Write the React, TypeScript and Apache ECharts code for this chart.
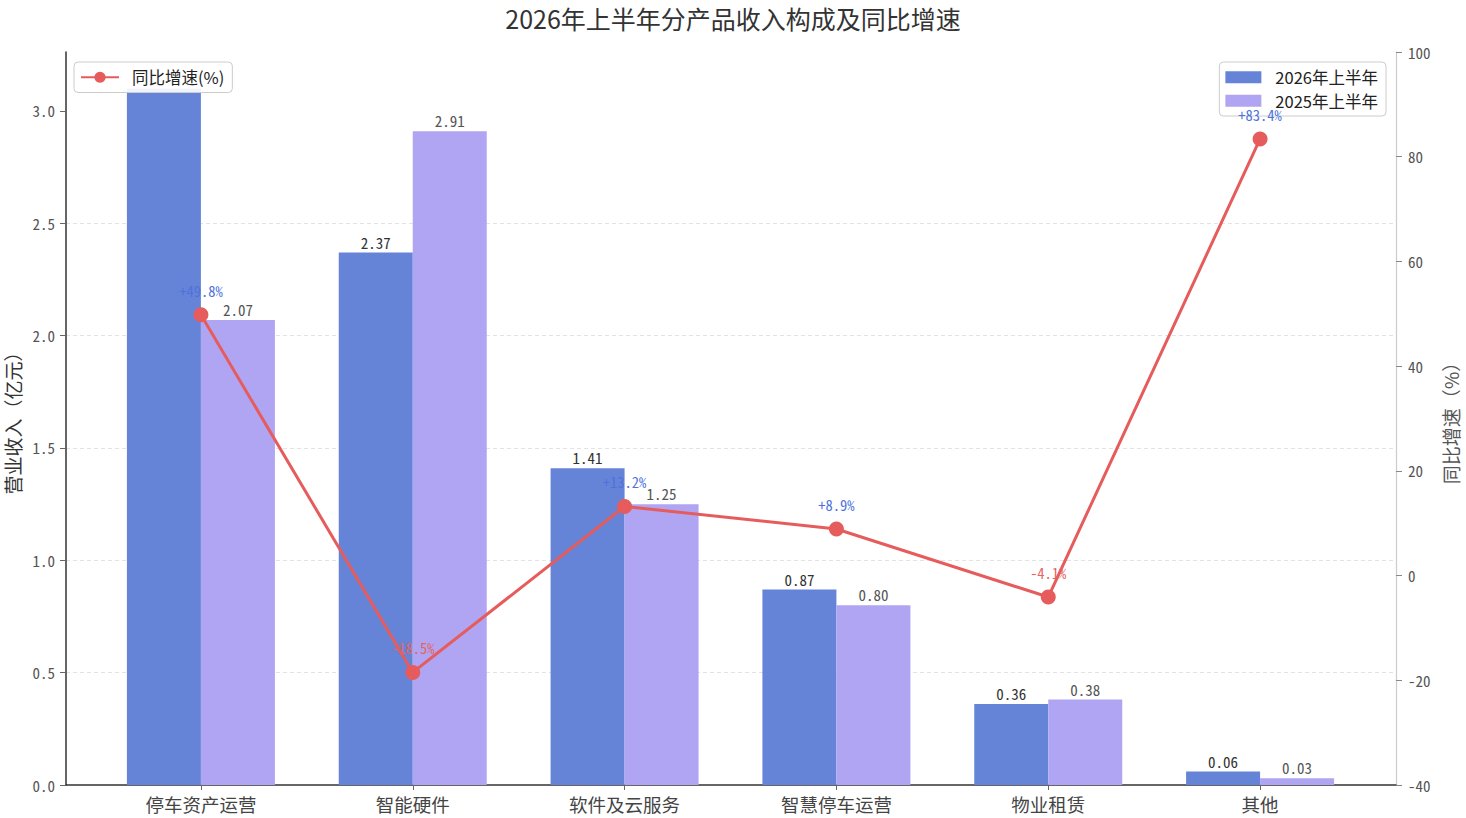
import React, { useEffect, useRef } from "react";
import * as echarts from "echarts";

const categories = ["停车资产运营", "智能硬件", "软件及云服务", "智慧停车运营", "物业租赁", "其他"];
const revenue2026 = [3.1, 2.37, 1.41, 0.87, 0.36, 0.06];
const revenue2025 = [2.07, 2.91, 1.25, 0.8, 0.38, 0.03];
const growth = [49.8, -18.5, 13.2, 8.9, -4.1, 83.4];
const leftTicks = [0, 0.5, 1, 1.5, 2, 2.5, 3];
const seriesNames = ["2026年上半年", "2025年上半年", "同比增速(%)"];

const FONT = "'Noto Sans CJK SC', 'Noto Sans', sans-serif";
const MONO = "'Noto Sans Mono CJK SC', 'Noto Sans CJK SC', 'DejaVu Sans Mono', monospace";
const C2026 = "#6684d7";
const C2025 = "#b0a5f2";
const CLINE = "#e65c5c";
const LEFT_MAX = 3.2625;
const topTick = leftTicks[leftTicks.length - 1];

export default function App() {
  const ref = useRef<HTMLDivElement>(null);
  useEffect(() => {
    if (!ref.current) return;
    const chart = echarts.init(ref.current, null, { renderer: "svg" });
    const barLabel = (color: string) => ({
      show: true,
      position: "top",
      distance: 3,
      fontFamily: MONO,
      fontSize: 15,
      color,
      formatter: (p: any) => Number(p.value).toFixed(2),
    });
    const option: any = {
      animation: false,
      backgroundColor: "#ffffff",
      textStyle: { fontFamily: FONT },
      title: {
        text: "2026年上半年分产品收入构成及同比增速",
        left: "center",
        top: 0,
        textStyle: { fontFamily: FONT, fontSize: 25, fontWeight: "normal", color: "#333" },
      },
      legend: [
        {
          data: [seriesNames[2]],
          left: 74,
          top: 62,
          padding: [7, 8, 7, 6],
          itemWidth: 38,
          itemHeight: 14,
          backgroundColor: "rgba(255,255,255,0.9)",
          borderColor: "#cccccc",
          borderWidth: 1,
          borderRadius: 4,
          z: 20,
          textStyle: { fontFamily: FONT, fontSize: 16.5, color: "#222", padding: [0, 0, 0, 8] },
        },
        {
          data: [seriesNames[0], seriesNames[1]],
          orient: "vertical",
          right: 80,
          top: 62,
          padding: [7, 8, 7, 6],
          itemGap: 7,
          itemWidth: 36,
          itemHeight: 12,
          icon: "rect",
          backgroundColor: "rgba(255,255,255,0.9)",
          borderColor: "#cccccc",
          borderWidth: 1,
          borderRadius: 4,
          z: 20,
          textStyle: { fontFamily: FONT, fontSize: 16.5, color: "#222", padding: [0, 0, 0, 9] },
        },
      ],
      grid: [
        { left: 95, right: 100, top: 52, bottom: 33, outerBoundsMode: "none", containLabel: false },
        { left: 66, right: 70, top: 52, bottom: 33, outerBoundsMode: "none", containLabel: false },
      ],
      xAxis: [
        {
          type: "category",
          gridIndex: 0,
          data: categories,
          axisLine: { show: false },
          axisTick: { show: true, alignWithLabel: true, length: 5, lineStyle: { color: "#666" } },
          axisLabel: { fontFamily: FONT, fontSize: 18.5, color: "#444", margin: 10 },
          splitLine: { show: false },
        },
        {
          type: "value",
          gridIndex: 1,
          min: 0,
          max: 1,
          axisLine: { show: true, lineStyle: { color: "#333", width: 1.5 } },
          axisTick: { show: false },
          axisLabel: { show: false },
          splitLine: { show: false },
        },
      ],
      yAxis: [
        {
          type: "value",
          gridIndex: 0,
          position: "left",
          offset: 29,
          min: 0,
          max: LEFT_MAX,
          interval: 0.5,
          name: "营业收入（亿元）",
          nameLocation: "middle",
          nameRotate: 90,
          nameGap: 38,
          nameTextStyle: { fontFamily: FONT, fontSize: 19, color: "#333" },
          axisLine: { show: true, lineStyle: { color: "#333", width: 1.5 } },
          axisTick: { show: true, length: 6, lineStyle: { color: "#666" }, customValues: leftTicks },
          axisLabel: {
            fontFamily: MONO,
            fontSize: 15,
            color: "#555",
            margin: 11,
            customValues: leftTicks,
            formatter: (v: number) => v.toFixed(1),
          },
          splitLine: { show: false },
        },
        {
          type: "value",
          gridIndex: 0,
          position: "right",
          offset: 30,
          min: -40,
          max: 100,
          interval: 20,
          name: "同比增速（%）",
          nameLocation: "middle",
          nameRotate: 90,
          nameGap: 45,
          nameTextStyle: { fontFamily: FONT, fontSize: 19, color: "#555" },
          axisLine: { show: true, lineStyle: { color: "#cccccc", width: 1.2 } },
          axisTick: { show: true, length: 6, lineStyle: { color: "#888" } },
          axisLabel: { fontFamily: MONO, fontSize: 15, color: "#555", margin: 12 },
          splitLine: { show: false },
        },
        {
          type: "value",
          gridIndex: 1,
          min: 0,
          max: LEFT_MAX,
          interval: 0.5,
          axisLine: { show: false },
          axisTick: { show: false, customValues: leftTicks },
          axisLabel: { show: false, customValues: leftTicks },
          splitLine: {
            show: true,
            showMinLine: false,
            showMaxLine: false,
            lineStyle: { color: "#e3e3e3", type: [4, 3], width: 1 },
          },
        },
      ],
      series: [
        {
          name: seriesNames[0],
          type: "bar",
          xAxisIndex: 0,
          yAxisIndex: 0,
          data: revenue2026.map((v) => ({ value: v, label: { show: v <= topTick } })),
          barWidth: 74,
          barGap: "0%",
          itemStyle: { color: C2026 },
          z: 2,
          label: barLabel("#333"),
        },
        {
          name: seriesNames[1],
          type: "bar",
          xAxisIndex: 0,
          yAxisIndex: 0,
          data: revenue2025.map((v) => ({ value: v, label: { show: v <= topTick } })),
          barWidth: 74,
          barGap: "0%",
          itemStyle: { color: C2025 },
          z: 2,
          label: barLabel("#555"),
        },
        {
          name: seriesNames[2],
          type: "line",
          xAxisIndex: 0,
          yAxisIndex: 1,
          data: growth.map((g) => ({
            value: g,
            label: { color: g >= 0 ? "#4d72dc" : "#e36464" },
          })),
          symbol: "circle",
          symbolSize: 15,
          z: 25,
          lineStyle: { color: CLINE, width: 3 },
          itemStyle: { color: CLINE },
          label: {
            show: true,
            position: "top",
            distance: 10,
            fontFamily: MONO,
            fontSize: 14.5,
            formatter: (p: any) => (p.value >= 0 ? "+" : "") + Number(p.value).toFixed(1) + "%",
          },
        },
      ],
    };
    chart.setOption(option);
    return () => chart.dispose();
  }, []);
  return (
    <div
      ref={ref}
      style={{ position: "absolute", left: 0, top: 0, width: 1466, height: 818 }}
    />
  );
}
